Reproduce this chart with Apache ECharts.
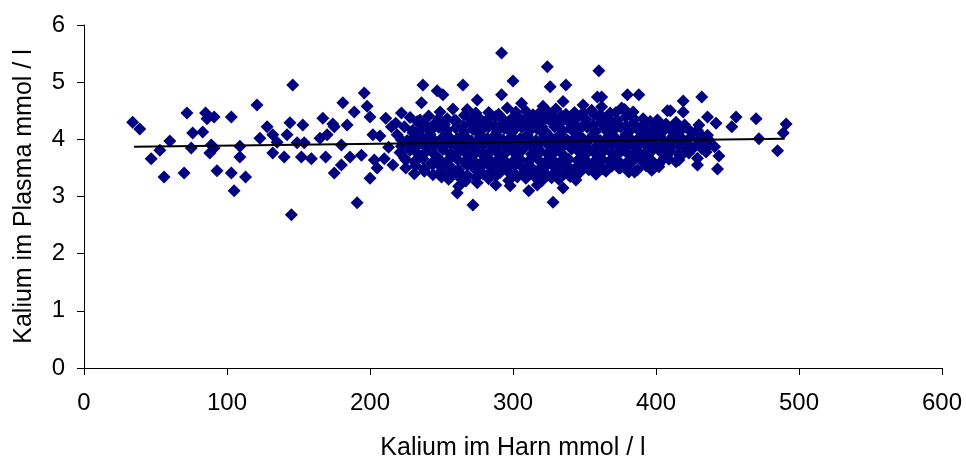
<!DOCTYPE html>
<html>
<head>
<meta charset="utf-8">
<script src="https://cdn.jsdelivr.net/npm/echarts@6/dist/echarts.min.js"></script>
<style>
html,body{margin:0;padding:0;background:#fff}
#Chart{width:966px;height:457px}
</style>
</head>
<body>
<div id="Chart"></div>
<script>
// Kalium im Harn (x) / Kalium im Plasma (y)
var leftPoints=[
    [34,4.30],[39,4.18],[47,3.66],[53,3.81],[56,3.34],[60,3.97],[70,3.41],[72,4.46],[75,3.85],[76,4.11],
    [83,4.13],[85,4.46],[86,4.36],[88,3.76],[89,3.90],[91,4.39],[91,3.85],[93,3.45],[103,4.39],[103,3.41],
    [105,3.10],[109,3.88],[109,3.69],[113,3.34],[121,4.60],[123,4.02],[128,4.22],[132,4.08],[132,3.76],[135,3.95],
    [140,3.69],[142,4.08],[144,4.29],[146,4.95],[145,2.68],[149,3.94],[152,3.69],[153,4.25],[154,3.94],[159,3.66],
    [165,4.02],[167,4.37],[169,3.69],[170,4.08],[174,4.27],[175,4.22],[175,3.41],[180,3.90],[180,3.55],[181,4.64],
    [184,4.25],[186,3.69],[189,4.48],[191,2.89],[194,3.72],[196,4.81],[198,4.58],[200,4.39],[200,3.32],[202,4.08],
    [203,3.64],[205,3.50]
]
var corePoints=[
    [306,4.63],[321,4.58],[335,4.66],[349,4.60],[362,4.57],
    [268,4.52],[283,4.47],[296,4.55],[309,4.49],[318,4.45],[330,4.53],[343,4.47],[355,4.51],[368,4.46],[378,4.52],
    [228,4.38],[241,4.41],[254,4.36],[266,4.42],[276,4.38],[288,4.40],[299,4.36],[311,4.42],[323,4.37],[334,4.41],[345,4.38],[357,4.43],[366,4.37],[379,4.40],[391,4.36],
    [218,4.28],[233,4.31],[245,4.27],[259,4.33],[270,4.29],[281,4.31],[292,4.27],[302,4.32],[314,4.28],[327,4.30],[338,4.33],[350,4.27],[361,4.30],[372,4.32],[384,4.28],[396,4.31],[407,4.27],
    [215,4.22],[224,4.22],[236,4.18],[248,4.21],[260,4.20],[272,4.17],[283,4.22],[294,4.19],[306,4.21],[317,4.18],[329,4.22],[340,4.19],[352,4.21],[364,4.18],[375,4.22],[387,4.19],[399,4.20],[410,4.17],[421,4.21],
    [207,4.06],[219,4.08],[230,4.12],[242,4.09],[253,4.11],[265,4.07],[276,4.12],[288,4.09],[299,4.11],[310,4.08],[321,4.12],[333,4.09],[344,4.10],[356,4.07],[367,4.12],[379,4.09],[390,4.11],[402,4.08],[413,4.10],[425,4.12],[436,4.07],
    [222,3.99],[226,3.98],[237,4.02],[249,3.99],[261,4.01],[271,3.97],[282,4.02],[293,3.99],[305,4.01],[316,3.98],[327,4.02],[338,3.99],[349,4.01],[361,3.98],[372,4.02],[383,3.99],[395,4.01],[406,3.97],[418,4.02],[430,3.99],
    [213,3.86],[222,3.88],[234,3.91],[245,3.89],[257,3.92],[268,3.88],[279,3.90],[290,3.87],[301,3.91],[312,3.89],[324,3.92],[335,3.88],[346,3.90],[358,3.87],[369,3.91],[381,3.89],[392,3.92],[403,3.88],[415,3.90],[427,3.87],[438,3.91],
    [221,3.77],[228,3.81],[239,3.78],[251,3.82],[263,3.80],[274,3.77],[285,3.81],[296,3.79],[307,3.82],[319,3.78],[330,3.80],[341,3.83],[353,3.79],[364,3.81],[375,3.78],[387,3.80],[398,3.82],[410,3.79],[422,3.81],
    [210,3.66],[224,3.68],[235,3.71],[247,3.69],[258,3.72],[269,3.68],[280,3.70],[292,3.67],[303,3.71],[314,3.69],[326,3.72],[337,3.68],[348,3.70],[360,3.67],[371,3.71],[383,3.69],[394,3.72],[406,3.68],[417,3.70],[429,3.67],
    [216,3.55],[231,3.61],[243,3.58],[254,3.62],[266,3.60],[277,3.57],[288,3.61],[299,3.59],[311,3.62],[322,3.58],[333,3.60],[345,3.63],[356,3.59],[367,3.61],[379,3.58],[391,3.60],[402,3.57],[414,3.61],
    [225,3.50],[238,3.48],[250,3.51],[262,3.47],[273,3.50],[284,3.52],[295,3.48],[307,3.50],[318,3.47],[329,3.51],[340,3.49],[352,3.52],[363,3.48],[375,3.50],[387,3.47],[399,3.51],
    [231,3.40],[244,3.38],[256,3.41],[268,3.37],[279,3.40],[291,3.42],[302,3.38],[313,3.41],[324,3.37],[336,3.40],[347,3.43],[358,3.39],
    [255,3.30],[267,3.27],[283,3.31],[297,3.28],[309,3.32],[320,3.27],[332,3.30],[344,3.29],
    [262,3.18],[298,3.19],[317,3.20],[335,3.15],[311,3.10]
]
var fillPoints=[
    [274,4.46],[290,4.44],[302,4.48],[314,4.43],[325,4.47],[337,4.44],[349,4.46],[361,4.43],[372,4.47],
    [235,4.34],[248,4.36],[260,4.33],[271,4.35],[283,4.37],[294,4.33],[305,4.36],[317,4.34],[328,4.37],[340,4.33],[351,4.35],[362,4.36],[373,4.33],[385,4.35],[401,4.34],
    [239,4.25],[252,4.26],[265,4.23],[276,4.26],[287,4.24],[298,4.25],[309,4.27],[320,4.23],[332,4.26],[344,4.24],[356,4.25],[368,4.27],[379,4.24],[391,4.25],[403,4.23],[415,4.26],
    [230,4.16],[242,4.14],[254,4.16],[266,4.13],[278,4.16],[289,4.14],[300,4.15],[312,4.16],[323,4.13],[335,4.15],[346,4.16],[358,4.14],[370,4.15],[381,4.13],[393,4.16],[405,4.14],[417,4.15],[429,4.16],
    [232,4.06],[243,4.03],[255,4.05],[267,4.04],[277,4.06],[288,4.03],[299,4.05],[310,4.04],[322,4.06],[333,4.03],[344,4.05],[355,4.04],[367,4.06],[378,4.03],[389,4.05],[400,4.04],[412,4.06],[424,4.03],
    [228,3.96],[240,3.93],[251,3.95],[263,3.96],[274,3.94],[285,3.96],[296,3.93],[307,3.95],[319,3.94],[330,3.96],[341,3.93],[352,3.95],[364,3.96],[375,3.94],[386,3.95],[398,3.93],[409,3.96],[421,3.94],[433,3.95],
    [229,3.86],[240,3.84],[251,3.86],[262,3.85],[273,3.83],[285,3.86],[296,3.84],[306,3.86],[318,3.83],[329,3.85],[341,3.87],[352,3.84],[363,3.86],[375,3.84],[386,3.85],[397,3.86],[409,3.84],[420,3.86],[432,3.84],
    [233,3.76],[245,3.74],[256,3.75],[268,3.73],[279,3.76],[290,3.74],[301,3.76],[313,3.74],[324,3.75],[335,3.73],[347,3.76],[358,3.74],[369,3.76],[381,3.73],[392,3.75],[404,3.76],[416,3.74],
    [225,3.64],[237,3.66],[249,3.63],[261,3.65],[272,3.64],[283,3.66],[294,3.63],[305,3.65],[317,3.66],[328,3.64],[339,3.65],[351,3.63],[362,3.66],[373,3.64],[385,3.65],[397,3.63],[409,3.65],
    [232,3.54],[244,3.56],[256,3.53],[268,3.55],[279,3.56],[290,3.54],[301,3.55],[312,3.53],[324,3.56],[335,3.54],[346,3.55],[358,3.56],[369,3.53],[381,3.55],[393,3.54],
    [238,3.44],[250,3.45],[262,3.43],[274,3.46],[285,3.44],[296,3.45],[308,3.43],[319,3.46],[330,3.44],[342,3.45],[353,3.47],[365,3.44],[381,3.43],
    [250,3.34],[262,3.35],[274,3.33],[288,3.36],[303,3.34],[315,3.35],[327,3.33],[340,3.35]
]
var rightPoints=[
    [362,4.74],[376,4.55],[376,3.81],[380,4.78],[384,4.48],[385,3.43],[386,3.69],[388,4.78],[388,4.16],[395,3.90],
    [397,4.11],[397,3.46],[402,3.52],[405,3.85],[408,3.73],[408,4.50],[410,4.50],[414,4.30],[414,4.08],[416,3.64],
    [419,4.67],[419,4.48],[420,4.25],[421,3.94],[423,3.76],[429,3.55],[430,4.25],[430,4.11],[432,4.74],[435,3.78],
    [436,4.39],[437,3.99],[441,3.87],[442,4.28],[443,3.48],[444,3.71],[453,4.22],[456,4.39],[470,4.36],[472,4.01],
    [485,3.80],[489,4.11],[491,4.27]
]
var outlierPoints=[
    [211,4.37],[222,4.46],[236,4.64],[237,4.95],[247,4.85],[249,4.48],[251,4.78],[258,4.53],[261,3.06],[265,4.95],
    [272,2.85],[275,3.24],[275,4.69],[288,3.20],[292,5.51],[292,4.78],[300,5.02],[324,5.27],[326,4.92],[328,2.90],
    [337,4.95],[359,4.74],[360,5.20],[374,3.50]
]
var trendLine=[[35,3.87],[490,4.01]]

var xTicks=[0,100,200,300,400,500,600]
var yTicks=[0,1,2,3,4,5,6]

function drawChar(){
    var myChart=echarts.init(document.getElementById('Chart'))
    var font='"Liberation Sans", Arial, sans-serif'
    var allPoints=leftPoints.concat(corePoints,fillPoints,rightPoints,outlierPoints)
    var option={
        animation:false,
        grid:{left:84,right:24,top:25,bottom:89,outerBoundsMode:'none'},
        xAxis:{
            type:'value',
            min:xTicks[0],max:xTicks[xTicks.length-1],interval:100,
            name:'Kalium im Harn mmol / l',
            nameLocation:'middle',nameGap:68,
            nameTextStyle:{color:'#000',fontSize:25,fontFamily:font},
            axisLine:{onZero:false,lineStyle:{color:'#000',width:1}},
            axisTick:{show:true,length:7,lineStyle:{color:'#000'}},
            axisLabel:{color:'#000',fontSize:24,fontFamily:font,margin:23},
            splitLine:{show:false}
        },
        yAxis:{
            type:'value',
            min:yTicks[0],max:yTicks[yTicks.length-1],interval:1,
            name:'Kalium im Plasma mmol / l',
            nameLocation:'middle',nameGap:47,
            nameTextStyle:{color:'#000',fontSize:25,fontFamily:font},
            axisLine:{show:true,onZero:false,lineStyle:{color:'#000',width:1}},
            axisTick:{show:true,length:7,lineStyle:{color:'#000'}},
            axisLabel:{color:'#000',fontSize:24,fontFamily:font,margin:19},
            splitLine:{show:false}
        },
        series:[
            {
                type:'scatter',
                symbol:'diamond',
                symbolSize:13,
                itemStyle:{color:'#000080',opacity:1},
                data:allPoints
            },
            {
                type:'line',
                data:trendLine,
                symbol:'none',
                lineStyle:{color:'#000',width:1.8},
                z:5
            }
        ]
    }
    myChart.setOption(option)
}

drawChar()
</script>
</body>
</html>
